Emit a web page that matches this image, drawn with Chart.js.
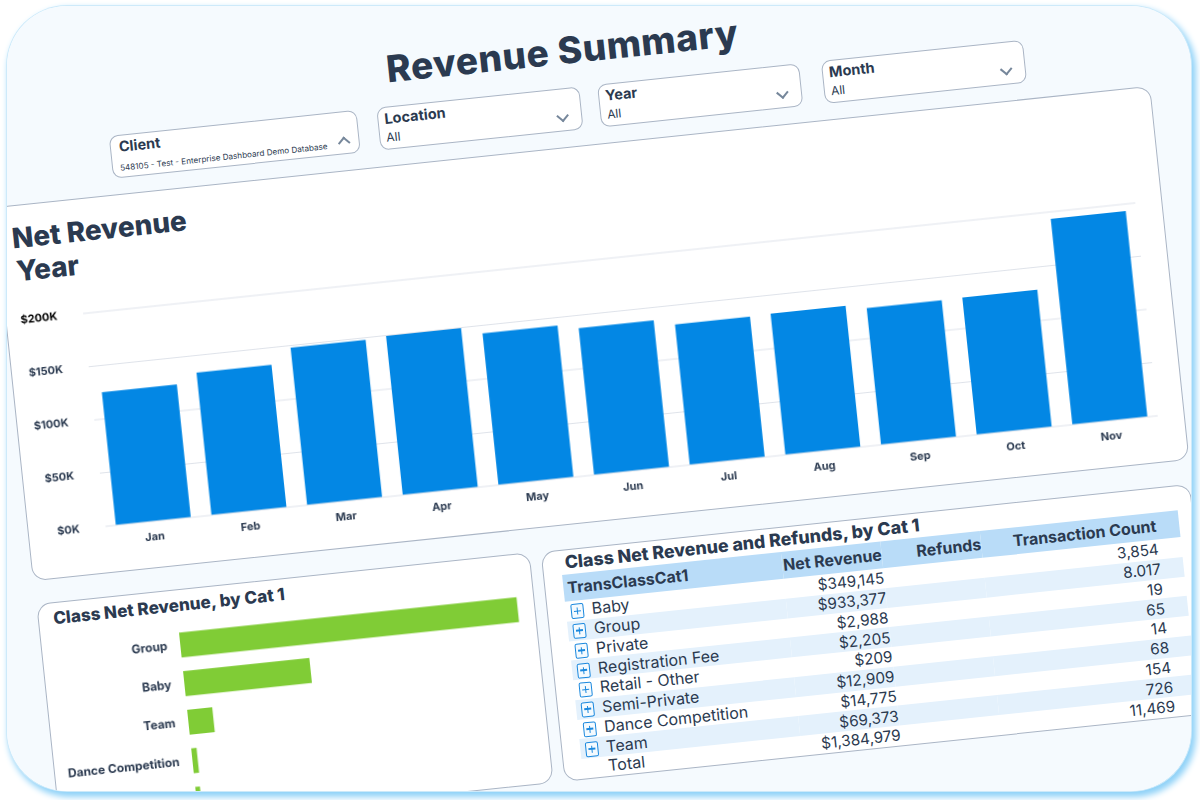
<!DOCTYPE html>
<html><head><meta charset="utf-8">
<script src="https://cdn.jsdelivr.net/npm/chart.js@4"></script>
<style>
html,body{margin:0;padding:0;width:1200px;height:800px;background:#fff;overflow:hidden;font-family:Inter,"Noto Sans",sans-serif;color:#2b3a50}
#frame{position:absolute;left:7px;top:6px;width:1184px;height:785px;border-radius:60px;overflow:hidden;background:#f5fafe;}
#glow{position:absolute;left:7px;top:6px;width:1184px;height:785px;border-radius:60px;box-shadow:0 0 0 1px #cdeafa,3px 4px 6px 2px #8fd2f8;}
#layer{position:absolute;left:-7px;top:-6px;width:1200px;height:800px;transform-origin:600px 400px;transform:rotate(-6deg)}
.card{position:absolute;background:#fff;border:1px solid #aab5c5;border-radius:14px;box-sizing:border-box;overflow:hidden}
.abs{position:absolute;white-space:nowrap}
#main{left:17px;top:145px;width:1163px;height:376px}
#side{left:17.5px;top:544px;width:496.5px;height:232px}
#tbl{left:525px;top:545px;width:653px;height:231px}
#title{left:300px;width:598px;top:25px;text-align:center;font-weight:800;font-size:37px;line-height:48px;letter-spacing:.6px}
.filter{position:absolute;top:86px;height:43px;background:#fff;border:1px solid #aab5c5;border-radius:9px;box-sizing:border-box}
.filter b{position:absolute;left:6px;top:2px;font-size:14.5px;font-weight:700;line-height:18px;white-space:nowrap}
.filter span{position:absolute;left:6px;top:22px;font-size:12px;line-height:16px;white-space:nowrap}
.filter span.small{font-size:8.15px;left:7px;top:24px}
.filter b.first{left:8px}
.filter i{position:absolute;right:14px;top:22px;width:7px;height:7px;border-right:2px solid #76879b;border-bottom:2px solid #76879b;transform:rotate(45deg)}
.filter i.up{top:26px;right:10px;transform:rotate(225deg)}
.h2{font-weight:800;color:#2b3a50}
canvas{position:absolute;left:-1px;top:-1px}
table{position:absolute;left:18px;top:24px;width:619px;border-collapse:collapse;table-layout:fixed;font-size:16px;color:#2b3a50}
td,th{padding:0;height:19.75px;line-height:19px;white-space:nowrap;overflow:visible}
th{height:27px;background:#b9dcf8;font-weight:700;font-size:16px;text-align:right}
th:first-child{text-align:left;padding-left:4px}
td{text-align:right;font-size:15.3px}
td:first-child{text-align:left;padding-left:5px;font-size:16px}
tr.alt td{background:#e4f1fc}
td.tot{padding-left:26px}
.pm{display:inline-block;position:relative;width:11px;height:13px;border:1.8px solid #1a88de;border-radius:2px;margin-right:8px;vertical-align:-3px;background:#f4fafe}
.pm:before{content:"";position:absolute;left:2px;right:2px;top:5.3px;height:1.6px;background:#1a88de}
.pm:after{content:"";position:absolute;top:3px;bottom:3px;left:4.7px;width:1.6px;background:#1a88de}
</style></head><body>
<div id="glow"></div>
<div id="frame"><div id="layer">
  <div id="title" class="abs">Revenue Summary</div>
  <div id="filters"></div>
  <div id="main" class="card">
    <div class="abs h2" style="left:14px;top:15px;font-size:28px;line-height:34px">Net Revenue</div>
    <div class="abs h2" style="left:15px;top:48px;font-size:28px;line-height:34px">Year</div>
    <canvas id="c1" width="1163" height="374" style="width:1163px;height:374px;top:1px"></canvas>
  </div>
  <div id="side" class="card">
    <div class="abs h2" style="left:15px;top:3px;font-size:17.1px;line-height:24px">Class Net Revenue, by Cat 1</div>
    <canvas id="c2" width="495" height="359" style="width:495px;height:359px;left:0.5px"></canvas>
  </div>
  <div id="tbl" class="card">
    <div class="abs h2" style="left:22px;top:0;font-size:17.8px;line-height:24px">Class Net Revenue and Refunds, by Cat 1</div>
    <table id="t"></table>
  </div>
</div></div>
<script>
const months = ["Jan","Feb","Mar","Apr","May","Jun","Jul","Aug","Sep","Oct","Nov"];
const monthlyNetRevenue = [125000,134000,148000,149500,142500,138000,132000,132700,128500,129000,193500];
const yTicks = [0,50000,100000,150000,200000];
const barCategories = ["Group","Baby","Team","Dance Competition","Semi-Private","Private","Registration Fee","Retail - Other"];
const barValues = [933377,349145,69373,14775,12909,2988,2205,209];
const tableHeaders = ["TransClassCat1","Net Revenue","Refunds","Transaction Count"];
const tableNames = ["Baby","Group","Private","Registration Fee","Retail - Other","Semi-Private","Dance Competition","Team","Total"];
const tableNet = ["$349,145","$933,377","$2,988","$2,205","$209","$12,909","$14,775","$69,373","$1,384,979"];
const tableCount = ["3,854","8.017","19","65","14","68","154","726","11,469"];
const filterNames = ["Client","Location","Year","Month"];
const filterValues = ["548105 - Test - Enterprise Dashboard Demo Database","All","All","All"];
const filterBoxes = [[139,249],[408,204],[630,203],[855,203]];

const fb = document.getElementById('filters');
filterNames.forEach((n,i)=>{
  const d=document.createElement('div');d.className='filter';
  d.style.left=filterBoxes[i][0]+'px';d.style.width=filterBoxes[i][1]+'px';
  d.innerHTML='<b class="'+(i==0?'first':'')+'">'+n+'</b><span class="'+(i==0?'small':'')+'">'+filterValues[i]+'</span><i class="'+(i==0?'up':'')+'"></i>';
  fb.appendChild(d);
});
const t=document.getElementById('t');
let h='<colgroup><col style="width:220px"><col style="width:100px"><col style="width:100px"><col style="width:199px"></colgroup><tr>';
tableHeaders.forEach((x,i)=>{h+='<th'+(i==3?' style="padding-right:23px"':'')+'>'+x+'</th>'});
h+='</tr>';
tableNames.forEach((n,i)=>{
  const tot=i==tableNames.length-1;
  h+='<tr class="'+(i%2==1?'alt':'')+'"><td class="'+(tot?'tot':'')+'">'+(tot?'':'<span class="pm"></span>')+n+'</td><td>'+tableNet[i]+'</td><td></td><td style="padding-right:23px">'+tableCount[i]+'</td></tr>';
});
t.innerHTML=h;

Chart.defaults.font.family='Inter, "Noto Sans", sans-serif';
new Chart(document.getElementById('c1'),{type:'bar',
  data:{labels:months,datasets:[{data:monthlyNetRevenue,backgroundColor:'#0387e4',categoryPercentage:0.784,barPercentage:1}]},
  options:{responsive:false,animation:false,devicePixelRatio:2,
    layout:{padding:{top:113,right:27,left:0,bottom:0}},
    plugins:{legend:{display:false},tooltip:{enabled:false}},
    scales:{
      x:{grid:{display:false},border:{display:false},afterFit:s=>{s.height=47},
         ticks:{color:'#2b3a50',font:{size:11,weight:'700'},padding:1}},
      y:{min:0,max:200000,afterFit:s=>{s.width=78},border:{display:false},
         grid:{color:'#dfe3ea',drawTicks:false},
         afterBuildTicks:s=>{s.ticks=yTicks.map(v=>({value:v}))},
         ticks:{color:c=>c.tick.value===200000?'#000':'#2b3a50',font:{size:11,weight:'700'},padding:26,callback:v=>'$'+(v/1000)+'K'}}
    }}});
new Chart(document.getElementById('c2'),{type:'bar',
  data:{labels:barCategories,datasets:[{data:barValues,backgroundColor:'#80cc36',categoryPercentage:0.645,barPercentage:1}]},
  options:{indexAxis:'y',responsive:false,animation:false,devicePixelRatio:2,
    layout:{padding:{top:36.5,right:17.6,left:0,bottom:0}},
    plugins:{legend:{display:false},tooltip:{enabled:false}},
    scales:{
      x:{display:false,min:0,max:933377},
      y:{afterFit:s=>{s.width=138},grid:{display:false},border:{display:false},
         ticks:{color:'#2b3a50',autoSkip:false,font:{size:12,weight:'700'},padding:5}}
    }}});
</script>
</body></html>
